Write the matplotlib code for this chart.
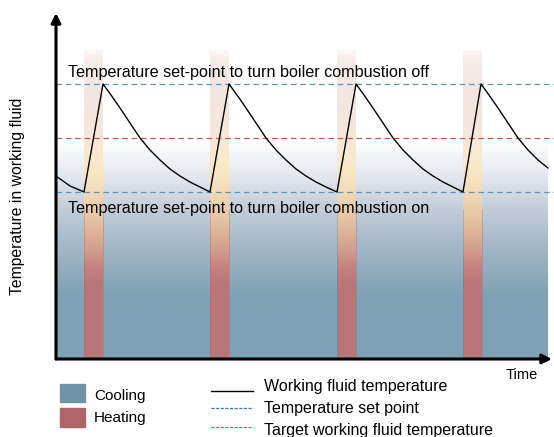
import numpy as np
import matplotlib
import matplotlib.pyplot as plt
from matplotlib.colors import LinearSegmentedColormap
from matplotlib.patches import Rectangle
from matplotlib.lines import Line2D

plt.rcParams['font.family'] = ['Liberation Sans', 'DejaVu Sans']

# arbitrary units (time, temperature)
time = [0, 14, 28, 47, 55, 64, 74, 84, 94, 104, 114, 124, 134, 144, 154,
        173, 181, 190, 200, 210, 220, 230, 240, 250, 260, 270, 281,
        300, 308, 317, 327, 337, 347, 357, 367, 377, 387, 397, 407,
        425, 433, 442, 452, 462, 472, 482, 492]
temp = [183, 173, 167, 275, 264, 251, 236, 221, 209, 199, 190, 183, 177, 172, 167,
        275, 264, 251, 236, 221, 209, 199, 190, 183, 177, 172, 167,
        275, 264, 251, 236, 221, 209, 199, 190, 183, 177, 172, 167,
        275, 264, 251, 236, 221, 209, 199, 191]
heat_start = [28, 154, 281, 407]
heat_len = 19
set_on = 167
set_off = 275
target = 221

fig = plt.figure(figsize=(5.54, 4.37), dpi=100)
W, H = 554, 437
ax = fig.add_axes([56 / W, (H - 359) / H, (W - 56) / W, (359 - 13) / H])
ax.axis('off')

# cooling background gradient
cool = LinearSegmentedColormap.from_list('cool', [
    (0.0, '#7fa1b5'), (0.30, '#80a2b5'), (0.55, '#a9bccb'),
    (0.70, '#c5cfda'), (0.81, '#dfe3ea'), (1.0, '#ffffff')])
grad = np.linspace(0, 1, 256).reshape(-1, 1)
ax.imshow(grad, extent=(0, 492, 0, 219), origin='lower', aspect='auto',
          cmap=cool, zorder=0)

# heating bars
heat = LinearSegmentedColormap.from_list('heat', [
    (0.0, '#b87678'), (0.246, '#b87678'), (0.30, '#c58480'),
    (0.353, '#d29e8c'), (0.40, '#dcb096'), (0.45, '#e4c3a3'),
    (0.547, '#f3dcb8'), (0.628, '#fae9c8'), (0.709, '#f7e8d8'),
    (0.838, '#f3e5e0'), (0.968, '#f5ebe8'), (1.0, '#fbf7f6')])
for s in heat_start:
    ax.imshow(grad, extent=(s, s + heat_len, 0, 309), origin='lower',
              aspect='auto', cmap=heat, zorder=1)
    ax.vlines([s, s + heat_len], 0, 150, color='#a86668', lw=0.5,
              alpha=0.5, zorder=1)

# set points
ax.axhline(set_off, color='#5f93b8', lw=0.9, dashes=(4.5, 3), zorder=2)
ax.axhline(set_on, color='#5f93b8', lw=0.9, dashes=(4.5, 3), zorder=2)
ax.axhline(target, color='#c5585b', lw=0.9, dashes=(4.5, 3), zorder=2)

ax.plot(time, temp, color='black', lw=1.0, zorder=3)

ax.set_xlim(0, 498)
ax.set_ylim(0, 346)

# axis arrows
arrow = dict(arrowstyle='-|>', lw=2.2, color='black', mutation_scale=14,
             shrinkA=0, shrinkB=0)
ax.annotate('', xy=(0, 1), xytext=(0, 0), xycoords='axes fraction',
            arrowprops=arrow, annotation_clip=False)
ax.annotate('', xy=(496 / 498, 0), xytext=(0, 0), xycoords='axes fraction',
            arrowprops=arrow, annotation_clip=False)

# overlay in pixel units for labels and legend
ov = fig.add_axes([0, 0, 1, 1])
ov.set_xlim(0, W)
ov.set_ylim(H, 0)
ov.axis('off')
ov.patch.set_alpha(0)

fs = 11.6
ov.text(68, 72, 'Temperature set-point to turn boiler combustion off',
        fontsize=fs, va='center', ha='left')
ov.text(68, 209, 'Temperature set-point to turn boiler combustion on',
        fontsize=fs, va='center', ha='left')
ov.text(18, 196, 'Temperature in working fluid', fontsize=11.3, rotation=90,
        va='center', ha='center')
ov.text(538, 375, 'Time', fontsize=10.5, va='center', ha='right')

ov.add_patch(Rectangle((60, 384), 25, 18, color='#7193a8'))
ov.add_patch(Rectangle((60, 408), 25, 19, color='#b06466'))
ov.text(94, 396, 'Cooling', fontsize=11, va='center')
ov.text(94, 418, 'Heating', fontsize=11, va='center')

ov.add_line(Line2D([211, 253], [391, 391], color='black', lw=1.0))
ov.add_line(Line2D([211, 253], [408, 408], color='#3f78a8', lw=0.9,
                   dashes=(2.5, 1.2)))
ov.add_line(Line2D([211, 253], [427, 427], color='#d05a5e', lw=0.9,
                   dashes=(2.5, 1.2)))
ov.text(264, 387, 'Working fluid temperature', fontsize=11.5, va='center')
ov.text(264, 408, 'Temperature set point', fontsize=11.5, va='center')
ov.text(264, 430, 'Target working fluid temperature', fontsize=11.5, va='center')

fig.savefig('out.png', dpi=100)
